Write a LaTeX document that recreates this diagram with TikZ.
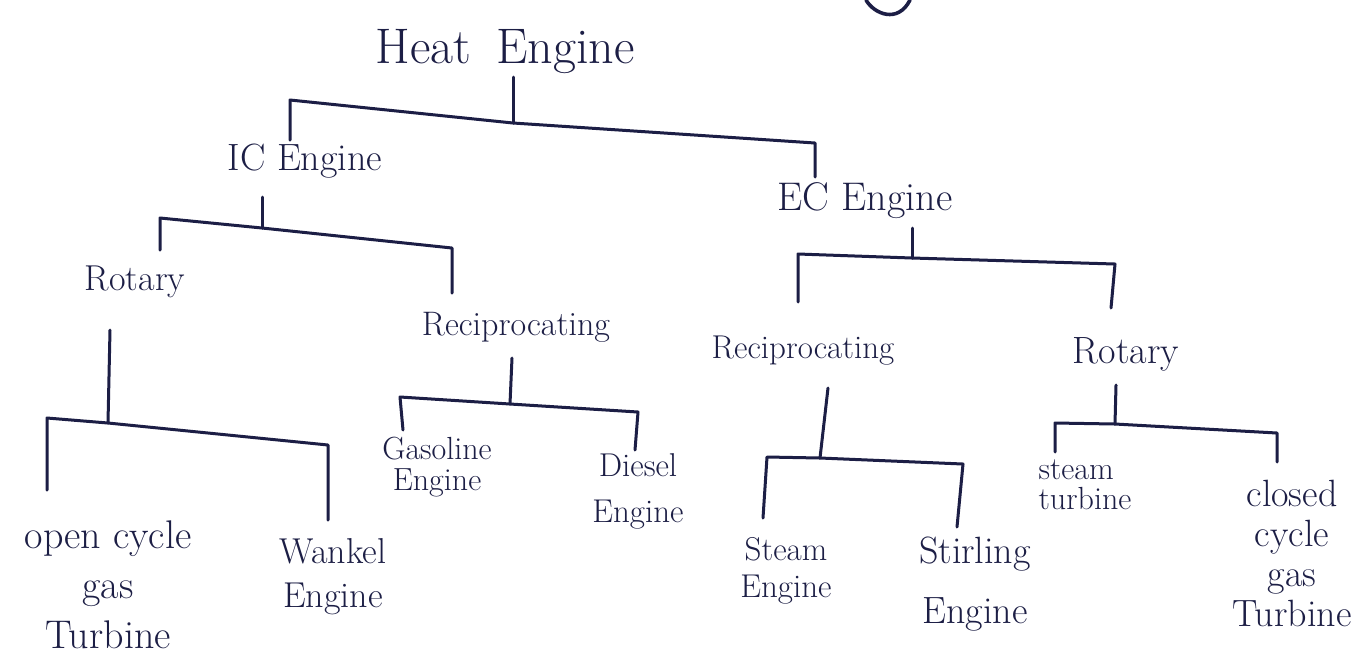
\documentclass[tikz,border=0pt]{standalone}
\usepackage{fontspec}
\definecolor{ink}{HTML}{1C1E45}
\newcommand{\fsz}[2]{\fontsize{#1}{#2}\selectfont}
\tikzset{
  lbl/.style={inner sep=0pt, text=ink, align=center},
  tree/.style={draw=ink, line width=1.5pt, line cap=round, line join=round},
}
\begin{document}
\begin{tikzpicture}[x=0.5pt, y=-0.5pt]
\useasboundingbox[fill=white] (0,0) rectangle (1369,655);

% labels
\node[lbl, anchor=base, font=\fsz{25}{30}] (heat) at (505,63) {Heat\hspace{0.5em}Engine};
\node[lbl, anchor=base, font=\fsz{19}{24}] (ic) at (305,170) {IC Engine};
\node[lbl, anchor=base, font=\fsz{20}{24}] (ec) at (865,210) {EC Engine};
\node[lbl, anchor=base, font=\fsz{18}{20}] (rotL) at (135,290) {Rotary};
\node[lbl, anchor=base, font=\fsz{17}{20}] (recL) at (516,335) {Reciprocating};
\node[lbl, anchor=base, font=\fsz{16.5}{20}] (recR) at (803,358) {Reciprocating};
\node[lbl, anchor=base, font=\fsz{19}{22}] (rotR) at (1126,363) {Rotary};

\node[lbl, font=\fsz{20}{25}] (open) at (108,585) {open cycle\\gas\\Turbine};
\node[lbl, font=\fsz{18}{22}] (wankel) at (333,577) {Wankel\\Engine};
\node[lbl, font=\fsz{16}{15.5}] (gasoline) at (437,467) {Gasoline\\Engine};
\node[lbl, font=\fsz{16.5}{23}] (diesel) at (638,491) {Diesel\\Engine};
\node[lbl, font=\fsz{16.5}{18.5}] (steamE) at (786,571) {Steam\\Engine};
\node[lbl, font=\fsz{19}{30}] (stirling) at (975,584) {Stirling\\Engine};
\node[lbl, font=\fsz{16}{15}, align=left] (steamT) at (1085,485) {steam\\turbine};
\node[lbl, font=\fsz{19}{20}] (closed) at (1292,553) {closed\\cycle\\gas\\Turbine};

% Heat Engine bracket
\coordinate (h0) at (513,77);  \coordinate (hj) at (513,123);
\coordinate (hl0) at (290,100); \coordinate (hl1) at (290,140);
\coordinate (hr0) at (815,143); \coordinate (hr1) at (815,177);
\draw[tree] (h0) -- (hj);
\draw[tree] (hl1) -- (hl0) -- (hj) -- (hr0) -- (hr1);

% IC Engine bracket
\coordinate (i0) at (262,197);  \coordinate (ij) at (262,228);
\coordinate (il0) at (160,218); \coordinate (il1) at (160,250);
\coordinate (ir0) at (452,248); \coordinate (ir1) at (452,293);
\draw[tree] (i0) -- (ij);
\draw[tree] (il1) -- (il0) -- (ij) -- (ir0) -- (ir1);

% EC Engine bracket
\coordinate (e0) at (912,228);  \coordinate (ej) at (912,258);
\coordinate (el0) at (798,254); \coordinate (el1) at (798,302);
\coordinate (er0) at (1115,264); \coordinate (er1) at (1111,308);
\draw[tree] (e0) -- (ej);
\draw[tree] (el1) -- (el0) -- (ej) -- (er0) -- (er1);

% Rotary (IC) bracket
\coordinate (a0) at (110,330);  \coordinate (aj) at (108,423);
\coordinate (al0) at (47,418);  \coordinate (al1) at (47,490);
\coordinate (ar0) at (328,445); \coordinate (ar1) at (328,520);
\draw[tree] (a0) -- (aj);
\draw[tree] (al1) -- (al0) -- (aj) -- (ar0) -- (ar1);

% Reciprocating (IC) bracket
\coordinate (b0) at (512,358);  \coordinate (bj) at (510,404);
\coordinate (bl0) at (400,397); \coordinate (bl1) at (403,430);
\coordinate (br0) at (638,412); \coordinate (br1) at (635,450);
\draw[tree] (b0) -- (bj);
\draw[tree] (bl1) -- (bl0) -- (bj) -- (br0) -- (br1);

% Reciprocating (EC) bracket
\coordinate (c0) at (828,388);  \coordinate (cj) at (820,458);
\coordinate (cl0) at (767,457); \coordinate (cl1) at (763,518);
\coordinate (cr0) at (963,464); \coordinate (cr1) at (957,527);
\draw[tree] (c0) -- (cj);
\draw[tree] (cl1) -- (cl0) -- (cj) -- (cr0) -- (cr1);

% Rotary (EC) bracket
\coordinate (d0) at (1116,385);  \coordinate (dj) at (1115,424);
\coordinate (dl0) at (1055,423); \coordinate (dl1) at (1055,452);
\coordinate (dr0) at (1277,433); \coordinate (dr1) at (1277,462);
\draw[tree] (d0) -- (dj);
\draw[tree] (dl1) -- (dl0) -- (dj) -- (dr0) -- (dr1);

% stray stroke at the top edge
\draw[tree, line width=1.8pt] (866,0) .. controls (874,14) and (898,24) .. (910,0);
\end{tikzpicture}
\end{document}
